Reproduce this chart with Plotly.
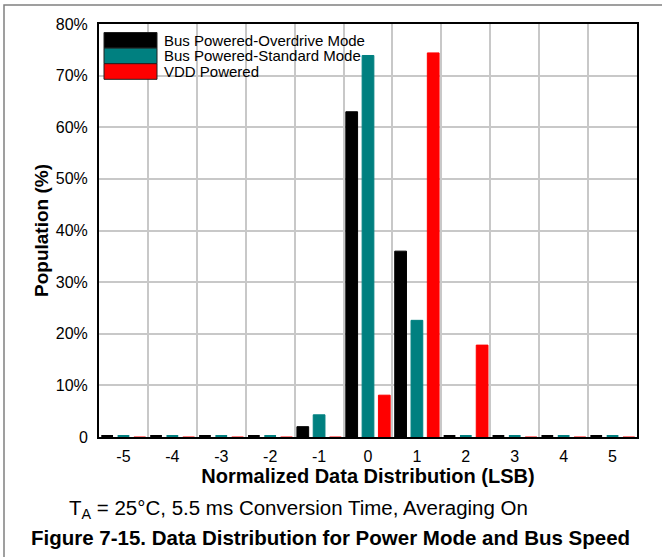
import plotly.graph_objects as go

# Normalized data distribution (LSB) and population (%) per power mode
codes = [-5, -4, -3, -2, -1, 0, 1, 2, 3, 4, 5]
overdrive = [0, 0, 0, 0, 2.0, 63.0, 36.0, 0, 0, 0, 0]
standard = [0, 0, 0, 0, 4.3, 73.9, 22.6, 0, 0, 0, 0]
vdd = [0, 0, 0, 0, 0, 8.1, 74.4, 17.8, 0, 0, 0]

series_names = ["Bus Powered-Overdrive Mode", "Bus Powered-Standard Mode", "VDD Powered"]
series_colors = ["#000000", "#008080", "#ff0000"]
zero_widths = [4, 4, 1.2]

y_ticks = [0, 10, 20, 30, 40, 50, 60, 70, 80]
y_ticktext = ["0"] + [f"{v}%" for v in y_ticks[1:]]

FONT = "Liberation Sans, Arial, sans-serif"

fig = go.Figure()
for name, vals, color, zw in zip(series_names, [overdrive, standard, vdd], series_colors, zero_widths):
    fig.add_trace(go.Bar(
        x=codes, y=vals, name=name,
        marker=dict(color=color,
                    line=dict(color=color, width=[zw if v == 0 else 1 for v in vals])),
        showlegend=False,
    ))

# plot area in pixels: x 99..637, y 24..437
W, H = 662, 557
L, R, T, B = 99, 637, 24, 437


def px(x):
    return (x - L) / (R - L)


def py(y):
    return (B - y) / (B - T)


shapes = []
annotations = []

# outer frame (left and top edges visible)
shapes.append(dict(type="rect", xref="paper", yref="paper",
                   x0=px(4), x1=px(700), y0=py(5), y1=py(620),
                   line=dict(color="#808080", width=1.5), fillcolor="rgba(0,0,0,0)", layer="below"))

# legend block with tall swatches
sw_top = 32.5
sw_h = 15.6
for i, (name, color) in enumerate(zip(series_names, series_colors)):
    y0 = sw_top + i * sw_h
    shapes.append(dict(type="rect", xref="paper", yref="paper",
                       x0=px(104), x1=px(157), y0=py(y0 + sw_h), y1=py(y0),
                       fillcolor=color, line=dict(color="#202020", width=1)))
    annotations.append(dict(xref="paper", yref="paper", x=px(162), y=py(y0 + sw_h / 2),
                            text=name, showarrow=False, xanchor="left", yanchor="middle",
                            font=dict(family=FONT, size=15, color="black")))

# caption lines below the chart
annotations.append(dict(xref="paper", yref="paper", x=px(298), y=py(509),
                        text="T<sub>A</sub> = 25°C, 5.5 ms Conversion Time, Averaging On",
                        showarrow=False, xanchor="center", yanchor="middle",
                        font=dict(family=FONT, size=20.5, color="black")))
annotations.append(dict(xref="paper", yref="paper", x=px(330), y=py(537),
                        text="<b>Figure 7-15. Data Distribution for Power Mode and Bus Speed</b>",
                        showarrow=False, xanchor="center", yanchor="middle",
                        font=dict(family=FONT, size=20.5, color="black")))

fig.update_layout(
    width=W, height=H,
    margin=dict(l=L, r=W - R, t=T, b=H - B),
    paper_bgcolor="white", plot_bgcolor="white",
    barmode="group", bargap=0.0, bargroupgap=0.28,
    font=dict(family=FONT, size=16, color="black"),
    shapes=shapes, annotations=annotations,
    xaxis=dict(
        range=[-5.5, 5.5], tickmode="array", tickvals=codes,
        ticktext=[str(c) for c in codes],
        showgrid=False, zeroline=False,
        showline=True, mirror=True, linecolor="black", linewidth=2,
        ticks="outside", ticklen=4, tickcolor="rgba(0,0,0,0)", tickfont=dict(size=16),
        minor=dict(tickmode="array", tickvals=[c + 0.5 for c in codes[:-1]],
                   showgrid=True, gridcolor="#c8c8c8", gridwidth=2, ticks=""),
        title=dict(text="<b>Normalized Data Distribution (LSB)</b>",
                   font=dict(size=20), standoff=0),
    ),
    yaxis=dict(
        range=[0, 80], tickmode="array", tickvals=y_ticks, ticktext=y_ticktext,
        showgrid=True, gridcolor="#c8c8c8", gridwidth=2, zeroline=False,
        showline=True, mirror=True, linecolor="black", linewidth=2,
        ticks="outside", ticklen=6, tickcolor="rgba(0,0,0,0)", tickfont=dict(size=16),
        title=dict(text="<b>Population (%)</b>", font=dict(size=19), standoff=2),
    ),
)

fig.write_html("out.html")
